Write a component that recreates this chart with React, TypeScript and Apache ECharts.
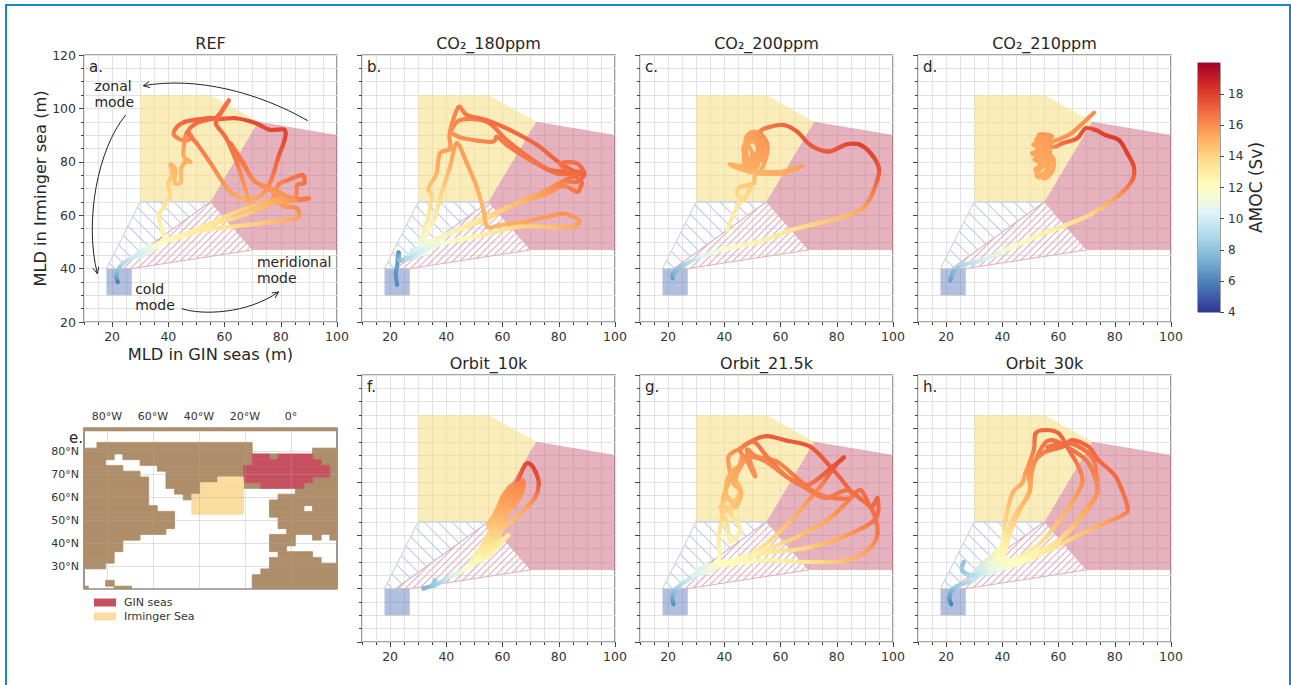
import React, { useEffect, useRef } from "react";
import * as echarts from "echarts";

// ---------- colour scale (AMOC, Sv) ----------
const amocMin = 4;
const amocMax = 20;
const cmapStops = ["#313695", "#4575b4", "#74add1", "#abd9e9", "#e0f3f8", "#ffffbf", "#fee090", "#fdae61", "#f46d43", "#d73027", "#a50026"];
const colorbarTicks = [4, 6, 8, 10, 12, 14, 16, 18];

// ---------- regime regions in (GIN MLD, Irminger MLD) ----------
const zonalRegion = [[30, 65], [30, 105], [55, 105], [72, 95], [55, 65]];
const meridionalRegion = [[72, 95], [100, 90], [100, 47], [70, 47], [55, 65]];
const coldRegion = [[18, 30], [27, 30], [27, 40], [18, 40]];
const zonalHatch = [[18, 40], [30, 65], [55, 65], [22, 40]];
const meridionalHatch = [[22, 40], [55, 65], [70, 47], [27, 40]];

// ---------- trajectories: [GIN MLD, Irminger MLD, AMOC] ----------
const refTrack = [
  [22, 35, 5.8], [21.5, 37, 7], [22, 39.5, 8], [24, 42, 9], [27, 44, 9.7], [31, 45.5, 10.5], [35, 47.5, 11.5], [33, 47, 11], [28, 44.5, 9.8], [32, 47.5, 10.8], [37, 49, 11.8], [30, 44.5, 10], [35, 48.5, 11.2], [38.3, 50.5, 12.3],
  [38, 54, 12.7], [36.5, 59.5, 13], [38.3, 63, 13.3], [40.6, 67, 13.8], [40, 72, 14.2], [41.5, 75, 14.6], [40.8, 79, 14.9], [42.5, 77, 14.9],
  [42.3, 72, 14.6], [44.5, 72.5, 14.7], [44.5, 77, 14.9], [46, 80, 15.2], [47.8, 80, 15.2], [45.5, 82, 15.2], [45.5, 86, 15.6], [46.6, 91, 16.2],
  [48.4, 89, 16.1], [45.5, 88, 15.9], [42, 90, 16.4], [43, 93, 16.7], [46, 95, 17], [50, 95.8, 17], [55, 96.5, 17], [58, 96, 17.2], [64, 96.3, 17.5],
  [71, 94.5, 17.8], [76, 92, 17.8], [81.3, 92, 17.9], [81.3, 88, 17.7], [79.2, 82, 17.2], [76.5, 73, 16.4], [73, 67.5, 15.6], [68, 66, 15.2], [63, 68, 15.4],
  [59.6, 72, 15.8], [55, 79.5, 16.2], [50, 87, 16.5], [47, 91, 16.6], [50, 94.5, 16.8], [55, 96, 17], [57.5, 97, 16.9], [61.5, 103, 16.7], [58, 97, 16.8],
  [57, 94, 16.9], [60.5, 89, 16.8], [64.4, 79.5, 16.4], [68, 68, 15.6], [69.7, 62.5, 15.2], [74, 63, 15.4], [77.5, 67, 15.8], [79.2, 71.5, 16.2],
  [82.2, 73, 16.5], [87.6, 75, 16.8], [88.4, 72, 16.7], [85.8, 71.3, 16.5], [85, 66.3, 16.1], [78.6, 68, 15.8], [80.4, 63.8, 15.7], [85.8, 62.5, 16],
  [86.5, 60, 15.8], [85.8, 59, 15.5], [81, 58, 15], [71.5, 56.8, 14.2], [62, 55.6, 13.6], [52.5, 54.4, 13], [42, 51, 12.4], [38.3, 50.5, 12.2],
  [47.8, 53.5, 12.9], [57.3, 57, 13.4], [66.8, 60, 14.2], [76, 64, 15], [81, 65, 15.6], [89.9, 66.3, 16.6], [84.6, 66.2, 16.2], [76.3, 70, 16],
  [70.3, 73, 16.2], [66.8, 79.4, 16.5], [62, 87, 16.7], [66, 80, 16.5], [71, 72.5, 16.1], [77, 69, 15.8], [85, 65.5, 15.8], [76.3, 65.5, 15.2],
  [64.4, 61.3, 14], [54.9, 56.9, 13.2], [45, 52.5, 12.6], [38, 50, 12.2],
];
const co2180Track = [
  [22.5, 34, 6.2], [22, 38, 6.5], [22.5, 41, 6.8], [23, 46, 6.5], [23.5, 43, 8], [27, 45, 9.8], [28, 47, 10], [33, 48, 11], [29, 44, 10], [36, 50, 11.8], [32, 45.5, 10.8], [33, 49.4, 11.5], [43.7, 54.4, 12.8], [55.6, 60, 14], [67.5, 65.6, 15.2],
  [77, 69.4, 15.9], [81.5, 72.5, 16.3], [86.5, 72.5, 16.7], [88.8, 75, 16.9], [86.5, 76.3, 17], [77, 76.9, 16.9], [69.9, 81.3, 16.8], [61.5, 88.1, 16.6], [54.4, 95, 16.6],
  [44.8, 95.6, 16.2], [41.3, 91, 15.9], [44.3, 100.4, 16.3], [47.3, 97.5, 16.6], [54.4, 95.6, 16.8], [62.7, 91.9, 16.9], [72.3, 86.3, 17], [80.6, 79.4, 17.1], [88.9, 75, 17],
  [86.5, 79.4, 16.8], [80.6, 79, 16.7], [87.7, 73, 16.8], [87.7, 70.6, 16.8], [86.5, 68.8, 16.6], [81.5, 71, 16.2], [75.8, 68, 15.7], [65.1, 64.4, 14.8], [53.2, 58.1, 13.6], [41.3, 53.1, 12.6], [31, 48, 11],
  [33.6, 59.4, 13.2], [34.8, 66.9, 14], [33.6, 70, 14.5], [36.5, 75.6, 15], [37.7, 83.1, 15.5], [41.3, 85, 15.6], [41.3, 90.6, 15.9], [46, 88.8, 16], [56.2, 87.5, 16.3],
  [58, 89.4, 16.4], [61.5, 86.3, 16.5], [69.9, 80.6, 16.6], [79.4, 75.6, 16.8], [86.5, 75.5, 16.9], [80, 72, 16.2], [72, 67.5, 15.4], [61, 62.5, 14.3], [50, 57.5, 13.2], [33, 50, 11.5],
  [36, 59.4, 13], [38.3, 68.1, 14], [41.3, 78.1, 15], [43.7, 86.9, 15.7], [47.3, 79.4, 15.5], [50.8, 70.6, 15.2], [53.2, 61.9, 14.9], [54.6, 55.6, 15], [59.2, 56.3, 15], [67.5, 57.5, 15.4],
  [75.8, 59.4, 15.7], [81.8, 60.6, 15.9], [87.1, 58.1, 15.7], [84.8, 55.6, 15.3], [77, 55.6, 14.6], [65.1, 55.6, 13.9], [55, 53, 13], [43, 50.5, 12], [33, 47.5, 10.5], [26, 43.5, 9],
];
const co2200Track = [
  [21.7, 36.3, 6.8], [21.7, 38, 7.3], [25.5, 41.3, 8.5], [31.4, 44.4, 10.3], [40.9, 47.5, 11.8], [54, 50.6, 12.7], [63.5, 54.4, 13.4], [77.8, 58.1, 14.4], [87.3, 61.3, 15.2],
  [91.5, 65.6, 16], [94.4, 73.1, 17], [95, 77.5, 17.4], [92.6, 82.5, 17.8], [88.5, 86.3, 18], [83.7, 86.6, 17.8], [80.2, 85, 17.5], [76.6, 83.8, 17.3], [70.6, 86.3, 17.4], [65.9, 91.3, 17.3],
  [61.1, 93.8, 17], [56.4, 93.1, 16.6], [52.8, 91.3, 16.3], [55.2, 86.9, 15.8], [54.6, 80.6, 15.5], [51.6, 75.6, 15.2], [48, 80, 15.3], [46.9, 85.6, 15.4], [50.4, 89.4, 15.6], [53, 86.5, 15.6], [52.3, 80, 15.4],
  [50.4, 76.9, 15.2], [47.8, 83, 15.3], [48.5, 87, 15.5], [52.5, 88, 15.7], [53.8, 82, 15.5], [51.8, 79.6, 15.3], [49, 76, 15.2], [47, 80, 15.3], [48, 86, 15.5], [51, 90, 15.7], [54, 88, 15.7], [53, 83, 15.5], [49, 80, 15.3], [47.5, 84, 15.4], [49.5, 88, 15.5], [52, 85, 15.5], [50, 79, 15.3], [48, 77.5, 15.2], [50, 83, 15.4], [47.5, 88, 15.4], [49.5, 91, 15.6], [53, 90, 15.8], [51.5, 83, 15.5],
  [47, 78.5, 15.2], [42, 79, 15.2], [47, 76.9, 15.1], [52.8, 75.6, 15.1],
  [60, 75.6, 15.3], [67.7, 78.4, 15.6], [60, 76.2, 15.2], [51.5, 76, 15], [50.4, 71.9, 14.6], [45.7, 70.6, 14.2], [44.5, 68.1, 13.9], [47, 66.3, 13.8], [49.5, 71, 14.2], [47.5, 66.5, 13.8], [44.5, 63.1, 13.2], [41, 54.4, 12.8],
];
const co2210Track = [
  [21.5, 35.6, 6.8], [22.7, 38.8, 7.6], [25.7, 41.3, 8.8], [32.8, 43.1, 10], [43.5, 48.1, 11.8], [53, 52.5, 12.6], [62.5, 56.3, 13.2], [72, 60.6, 14], [81.5, 67.5, 15.8], [86.2, 73.1, 16.9], [86.8, 78.1, 17.6],
  [84.5, 83.1, 18], [81.5, 88.1, 18.1], [76.7, 90, 18], [73.2, 91.9, 17.8], [69.6, 92.5, 17.6], [66.6, 88.8, 17.3], [61.3, 86.9, 16.8], [57.7, 85.6, 16], [53, 90, 15.9], [57.7, 89.5, 15.7], [53, 87, 15.6], [51.2, 86.3, 15.5],
  [56, 84, 15.5], [50.6, 83.1, 15.4], [57.7, 80.6, 15.4], [53, 78, 15.3], [51.8, 76.9, 15.3], [54.8, 73.8, 15.2], [57.7, 76.3, 15.3], [58.2, 81, 15.4], [55.2, 83, 15.4], [52.2, 75.5, 15.2], [53.9, 74.5, 15.2], [56.2, 79.5, 15.3],
  [52.5, 89, 15.5], [57, 87, 15.6], [52, 84, 15.5], [56, 82, 15.4], [51.5, 81, 15.4], [55, 79, 15.3], [52.5, 77, 15.3], [55, 75, 15.2], [57, 78, 15.3], [53.5, 80, 15.4], [57, 84, 15.5], [53.5, 85.5, 15.5], [56.5, 88.5, 15.7], [52, 88, 15.5], [54.5, 83, 15.4], [53.5, 77.5, 15.3], [56, 81, 15.4],
  [55, 86, 15.6], [60.6, 88.6, 15.8], [65, 91, 15.9], [72.6, 98.4, 16],
];
const orbit10Track = [
  [31.8, 40, 7.5], [35.4, 41.3, 8], [36, 43.1, 8.3], [35.4, 41, 8.2], [41.3, 44.4, 10], [47.3, 47.5, 11.7], [50.8, 50.6, 12.2], [56.8, 54.4, 12.8], [62.1, 60, 13.2], [57, 56, 12.9], [51, 52, 12.4], [56.8, 59, 13.5],
  [55.8, 63.5, 14.3], [59.4, 72.4, 15.2], [65.1, 79.4, 15.8], [67.5, 80, 16.2], [66.3, 74.4, 15.8], [61.5, 68.1, 15], [56.8, 58.1, 13.8], [53, 52, 12.8], [58, 63, 14.2], [58.5, 70.5, 15], [62.7, 76, 15.6], [66.3, 78.5, 16],
  [65, 72.5, 15.6], [60.3, 66.5, 14.8], [55.5, 57.5, 13.6], [59, 60, 14], [61.5, 69.5, 15.1], [62.7, 75, 15.6], [60, 72, 15.4], [57, 62, 14.2], [61.5, 63.8, 14.4], [68.7, 70.6, 15.5], [71.7, 74.4, 16.3], [72.9, 79.4, 17.4],
  [71.7, 83.8, 17.8], [69.9, 86.6, 17.9], [68, 86.3, 17.7], [65.1, 80, 16.9], [61, 74.4, 16], [58, 67.5, 15.2],
  [55, 60, 14], [52, 55, 13.2], [49, 50, 12.4], [53, 51, 12.5], [57, 57, 13.4], [54.5, 58, 13.6], [57, 65, 14.6], [60, 72, 15.5], [63, 77, 16], [66, 79.5, 16.3], [64, 74, 15.8], [60, 67, 15], [56, 60, 14], [59, 63.5, 14.3], [61, 71, 15.4], [64, 76, 15.9], [66.5, 76.5, 16], [62.5, 72, 15.6], [59, 64, 14.6], [56.5, 61, 14], [55, 64, 14.6], [58, 69, 15.2], [60, 74.5, 15.6], [63.5, 78.5, 16], [61, 68, 15.2], [58, 60, 14], [53, 54, 13], [56, 53, 12.9], [51, 50, 12.3],
];
const orbit215Track = [
  [21.9, 34.1, 6.3], [21.6, 37.5, 7.4], [24.3, 41.3, 9], [29, 44.4, 10.2], [36.2, 48.1, 11.6], [29, 45, 10.2], [36, 47, 11.4], [30, 47, 10.3], [40, 50, 12.2], [34, 46, 10.8], [38, 50.6, 12.2], [38, 58.1, 13], [39.1, 66.9, 13.9], [39.7, 74.4, 14.8], [42, 81.9, 15.4], [41.5, 89.4, 15.8],
  [45.7, 92.5, 16.2], [50.4, 95.6, 16.8], [55.2, 97.1, 17.2], [62.3, 95.4, 17.3], [70.6, 93.1, 17.4], [77.8, 85.6, 17.3], [83.7, 78.1, 17], [85.5, 74.4, 16.8], [80.2, 73.8, 16.6], [73, 75.6, 16.6], [65.9, 81.3, 16.5], [58.8, 87.5, 16.3],
  [51.6, 89.4, 16.2], [48, 91.9, 16.1], [51, 82.1, 15.9], [48, 88, 16], [45.7, 92, 16.2], [50.4, 95, 16.7], [55.2, 89.4, 16.5], [62.3, 81.9, 16.5], [69.5, 78.8, 16.6], [77.8, 85, 17.4], [82.5, 89.1, 17.8], [79, 85.5, 17.4],
  [75, 79.4, 16.4], [65.9, 68.1, 15.2], [56.4, 58.1, 13.8], [45.7, 50.6, 12.6], [40, 49.5, 12], [54, 54.4, 13], [65.9, 59.4, 14.4], [77, 66, 15.5], [83.7, 72.5, 16.3], [88.5, 76.9, 16.8], [92.1, 70.6, 16.9], [94.5, 73.8, 17], [93.3, 65.6, 16.7],
  [80.2, 58.5, 15.3], [68.2, 55, 14], [54, 53.1, 12.9], [38, 49, 12], [54, 50.6, 12.6], [68.2, 50, 13.3], [82.5, 50.4, 14.6], [90.9, 54.4, 15.6], [94.5, 60.6, 16.5], [92.6, 69.5, 16.8], [88.5, 73.5, 16.9], [83.7, 76.9, 16.8], [76, 74, 16.4],
  [70, 77, 16.5], [62, 82, 16.4], [54, 88, 16.2], [47, 89.5, 16], [45.7, 86.9, 15.6], [43.3, 81.9, 15.2], [45.7, 76.9, 14.9], [42.1, 69.4, 14.2], [38.5, 70.6, 14.1], [43.5, 70.6, 14.5], [40.6, 75.6, 14.8], [41.5, 81.9, 15.1], [45.1, 85.6, 15.5], [43.9, 80, 15],
  [45.7, 76.5, 14.7], [42.1, 69.4, 14], [43.9, 65.6, 13.4], [45.7, 61.9, 13], [42.1, 57.5, 12.8], [41, 64, 13.6], [39, 70, 14.2], [41.5, 74, 14.6], [44, 70.5, 14.6], [46, 76, 15], [43, 80, 15.2], [45.5, 85, 15.5], [48, 90, 16],
];
const orbit30Track = [
  [21.8, 34.1, 5.9], [21.2, 36.9, 6.8], [23.3, 40.6, 8.2], [29.2, 43.1, 9.3], [35.2, 47.5, 10.8], [30, 44, 9.6], [36, 50, 11], [33, 46, 10.2], [40, 53, 12], [37, 47.5, 11.2], [42, 51, 12.2], [34, 48, 10.6], [39, 55, 12.4], [30, 46, 9.8], [38.7, 51.9, 12], [41.1, 65.6, 14], [43.5, 75.6, 15], [47, 79.4, 15.3], [48.2, 83.1, 15.6], [51.2, 91.9, 16.4], [51.8, 98.1, 16.9], [55.4, 99.4, 17],
  [60.1, 98.1, 17], [63.7, 91.9, 16.8], [67.1, 85.6, 16.5], [68.4, 79.4, 16], [63.7, 70.6, 15.2], [57.7, 61.9, 14.2], [51.8, 55.6, 13.2], [42, 50, 12.2], [40, 55, 12.6],
  [43.5, 65.6, 14], [49.4, 75.6, 15.3], [50.6, 84.4, 15.9], [54.2, 93.1, 16.5], [57.7, 95.6, 16.8], [64.8, 91.9, 16.7], [70.7, 86.9, 16.5], [73.9, 76.9, 16], [70.4, 70.6, 15.4], [63.7, 61.9, 14.3], [55, 54, 13], [41, 48.5, 11.8], [41.5, 56, 12.7],
  [45.5, 68, 14.4], [49.8, 76.5, 15.3], [49.5, 84, 15.8], [54.2, 90.6, 16.4], [61.3, 93.1, 16.8], [64.8, 95.6, 17], [70.7, 93.1, 17], [74.2, 88.1, 16.9], [80.3, 81.9, 16.9], [84.5, 70.6, 16.6], [82.7, 67.5, 16.1], [72, 62.5, 14.9],
  [58.9, 55.6, 13.4], [45.9, 49.4, 12], [35, 46, 10.5], [29.2, 45, 9.2], [25.7, 46.9, 8.4], [26.3, 50, 8], [25.7, 46.9, 8.2], [29.2, 45, 9], [36, 47, 10.8], [46, 50.5, 12], [60, 58, 13.6], [67.2, 65.6, 14.9], [73.2, 74.4, 15.8], [73.6, 81.9, 16.2], [71.8, 89.4, 16.6], [64, 94.5, 16.8], [56, 93, 16.7],
];

// ---------- panel e: model land mask as [row, firstColumn, lastColumn] ----------
const landRuns = [
  [0, 0, 29], [3, 2, 19], [4, 0, 19], [4, 27, 29], [5, 0, 3], [5, 5, 19], [5, 22, 22], [5, 27, 29], [6, 0, 2], [6, 7, 19], [6, 28, 29],
  [7, 0, 4], [7, 9, 18], [7, 29, 29], [8, 0, 6], [8, 10, 18], [8, 29, 29], [9, 0, 7], [9, 10, 15], [9, 27, 29], [10, 0, 7], [10, 10, 13], [10, 19, 20], [10, 26, 29],
  [11, 0, 7], [11, 11, 13], [11, 25, 29], [12, 0, 7], [12, 12, 12], [12, 23, 29], [13, 0, 7], [13, 22, 29], [14, 0, 8], [14, 22, 25], [14, 27, 29],
  [15, 0, 10], [15, 22, 29], [16, 0, 10], [16, 23, 29], [17, 0, 10], [17, 23, 29], [18, 0, 9], [18, 24, 29], [19, 0, 6], [19, 22, 24], [19, 27, 27], [19, 29, 29],
  [20, 0, 4], [20, 22, 24], [21, 0, 4], [21, 22, 23], [22, 0, 3], [22, 23, 26], [23, 0, 3], [23, 22, 27], [24, 0, 2], [24, 22, 29], [25, 21, 29], [26, 20, 29],
  [27, 3, 3], [27, 20, 29], [28, 0, 0], [28, 4, 5], [28, 20, 29],
];
const ginRuns = [[5, 20, 21], [5, 23, 26], [6, 20, 27], [7, 19, 28], [8, 19, 28], [9, 19, 26], [10, 21, 25]];
const irmingerRuns = [[9, 16, 18], [10, 14, 18], [11, 14, 18], [12, 13, 18], [13, 13, 18], [14, 13, 18], [14.5, 13, 18]];
const mapLonTicks = [-80, -60, -40, -20, 0];
const mapLatTicks = [30, 40, 50, 60, 70, 80];

// ---------- tick labels ----------
const xMajor = [20, 40, 60, 80, 100];
const yMajor = [20, 40, 60, 80, 100, 120];

const panels = [
  { title: "REF", letter: "a.", left: 84, top: 55, track: refTrack },
  { title: "CO₂_180ppm", letter: "b.", left: 362, top: 55, track: co2180Track },
  { title: "CO₂_200ppm", letter: "c.", left: 640, top: 55, track: co2200Track },
  { title: "CO₂_210ppm", letter: "d.", left: 918, top: 55, track: co2210Track },
  { title: "Orbit_10k", letter: "f.", left: 362, top: 375, track: orbit10Track },
  { title: "Orbit_21.5k", letter: "g.", left: 640, top: 375, track: orbit215Track },
  { title: "Orbit_30k", letter: "h.", left: 918, top: 375, track: orbit30Track },
];
const panelW = 253;
const panelH = 267;
const ink = "#262626";
const tickInk = "#444";

function hex(c: string) {
  return [parseInt(c.slice(1, 3), 16), parseInt(c.slice(3, 5), 16), parseInt(c.slice(5, 7), 16)];
}
function amocColor(v: number) {
  const t = Math.max(0, Math.min(0.9999, (v - amocMin) / (amocMax - amocMin))) * (cmapStops.length - 1);
  const i = Math.floor(t);
  const f = t - i;
  const a = hex(cmapStops[i]);
  const b = hex(cmapStops[i + 1]);
  return `rgb(${a.map((x, k) => Math.round(x + (b[k] - x) * f)).join(",")})`;
}

function trackSeries(track: number[][], i: number) {
  return {
    type: "custom",
    xAxisIndex: i * 2,
    yAxisIndex: i * 2,
    z: 5,
    silent: true,
    clip: true,
    data: track,
    encode: { x: 0, y: 1 },
    renderItem: (p: any, api: any) => {
      const k = p.dataIndex;
      if (k >= track.length - 1) return null;
      const at = (n: number) => api.coord(track[Math.max(0, Math.min(track.length - 1, n))]);
      const p0 = at(k - 1), p1 = at(k), p2 = at(k + 1), p3 = at(k + 2);
      return {
        type: "bezierCurve",
        shape: {
          x1: p1[0], y1: p1[1], x2: p2[0], y2: p2[1],
          cpx1: p1[0] + (p2[0] - p0[0]) / 6, cpy1: p1[1] + (p2[1] - p0[1]) / 6,
          cpx2: p2[0] - (p3[0] - p1[0]) / 6, cpy2: p2[1] - (p3[1] - p1[1]) / 6,
        },
        style: {
          fill: "none",
          lineWidth: 4.2,
          lineCap: "round",
          stroke: new echarts.graphic.LinearGradient(p1[0], p1[1], p2[0], p2[1], [
            { offset: 0, color: amocColor(track[k][2]) },
            { offset: 1, color: amocColor(track[k + 1][2]) },
          ], true),
        },
      };
    },
  };
}

function polygonSeries(poly: number[][], i: number, fill: string, z = 2) {
  return {
    type: "custom",
    xAxisIndex: i * 2,
    yAxisIndex: i * 2,
    z,
    silent: true,
    data: poly,
    encode: { x: 0, y: 1 },
    renderItem: (p: any, api: any) => {
      if (p.dataIndex !== 0) return null;
      return { type: "polygon", shape: { points: poly.map((c) => api.coord(c)) }, style: { fill } };
    },
  };
}

function hatchSeries(poly: number[][], i: number, stroke: string, dir: number[], spacing: number) {
  return {
    type: "custom",
    xAxisIndex: i * 2,
    yAxisIndex: i * 2,
    z: 3,
    silent: true,
    data: poly,
    encode: { x: 0, y: 1 },
    renderItem: (p: any, api: any) => {
      if (p.dataIndex !== 0) return null;
      const pts: number[][] = poly.map((c) => api.coord(c));
      const n = [-dir[1], dir[0]];
      const offs = pts.map((q) => q[0] * n[0] + q[1] * n[1]);
      const children: any[] = [{ type: "polygon", shape: { points: pts }, style: { fill: "none", stroke, lineWidth: 1 } }];
      const lo = Math.ceil(Math.min(...offs) / spacing) * spacing;
      for (let o = lo; o < Math.max(...offs); o += spacing) {
        const hits: number[][] = [];
        pts.forEach((a, j) => {
          const b = pts[(j + 1) % pts.length];
          const da = offs[j] - o;
          const db = offs[(j + 1) % pts.length] - o;
          if (da * db < 0) {
            const t = da / (da - db);
            hits.push([a[0] + (b[0] - a[0]) * t, a[1] + (b[1] - a[1]) * t]);
          }
        });
        if (hits.length === 2) {
          children.push({
            type: "line",
            shape: { x1: hits[0][0], y1: hits[0][1], x2: hits[1][0], y2: hits[1][1] },
            style: { stroke, lineWidth: 1.1, fill: "none" },
          });
        }
      }
      return { type: "group", children };
    },
  };
}

function arrowSeries(ctrl: number[][]) {
  return {
    type: "custom",
    xAxisIndex: 0,
    yAxisIndex: 0,
    z: 6,
    silent: true,
    data: ctrl,
    encode: { x: 0, y: 1 },
    renderItem: (p: any, api: any) => {
      if (p.dataIndex !== 0) return null;
      const [a, c1, c2, b] = ctrl.map((c) => api.coord(c));
      const ang = Math.atan2(b[1] - c2[1], b[0] - c2[0]);
      const len = 7;
      const wing = (d: number) => [b[0] - len * Math.cos(ang + d), b[1] - len * Math.sin(ang + d)];
      return {
        type: "group",
        children: [
          {
            type: "bezierCurve",
            shape: { x1: a[0], y1: a[1], cpx1: c1[0], cpy1: c1[1], cpx2: c2[0], cpy2: c2[1], x2: b[0], y2: b[1] },
            style: { fill: "none", stroke: "#222", lineWidth: 1 },
          },
          { type: "polyline", shape: { points: [wing(0.45), b, wing(-0.45)] }, style: { fill: "none", stroke: "#222", lineWidth: 1 } },
        ],
      };
    },
  };
}

function noteSeries(text: string, at: number[]) {
  return {
    type: "custom",
    xAxisIndex: 0,
    yAxisIndex: 0,
    z: 6,
    silent: true,
    data: [at],
    encode: { x: 0, y: 1 },
    renderItem: (_p: any, api: any) => {
      const c = api.coord(at);
      return {
        type: "text",
        x: c[0],
        y: c[1],
        style: { text, fill: ink, font: "14px 'DejaVu Sans'", textAlign: "left", textVerticalAlign: "top", lineHeight: 16 },
      };
    },
  };
}

function runSeries(name: string, runs: number[][], color: string, idx: number, z: number) {
  return {
    name,
    type: "custom",
    xAxisIndex: idx,
    yAxisIndex: idx,
    z,
    silent: true,
    clip: true,
    itemStyle: { color },
    data: runs,
    renderItem: (p: any, api: any) => {
      const [r, c0, c1] = runs[p.dataIndex];
      const a = api.coord([-90 + (c0 - 0.5) * 3.75, 90 - (r - 0.5) * 2.5]);
      const b = api.coord([-90 + (c1 + 0.5) * 3.75, 90 - (r + 0.5) * 2.5]);
      return {
        type: "rect",
        shape: { x: a[0], y: a[1], width: b[0] - a[0], height: b[1] - a[1] },
        style: { fill: color, stroke: color, lineWidth: 0.8 },
      };
    },
  };
}

function buildOption() {
  const grids: any[] = [];
  const xAxes: any[] = [];
  const yAxes: any[] = [];
  const series: any[] = [];
  const titles: any[] = [];
  const graphics: any[] = [];

  panels.forEach((pn, i) => {
    grids.push({ left: pn.left, top: pn.top, width: panelW, height: panelH, show: true, borderColor: "#555", borderWidth: 1.2, backgroundColor: "#fff" });
    const isRef = i === 0;
    const minorLine = { lineStyle: { color: "#e2e2e2", width: 1 } };
    xAxes.push({
      gridIndex: i, type: "value", min: 10, max: 100, interval: 5, position: "bottom",
      axisLine: { show: false }, axisLabel: { show: false },
      axisTick: { length: 3, lineStyle: { color: tickInk, width: 1 } },
      splitLine: { show: true, ...minorLine },
    });
    xAxes.push({
      gridIndex: i, type: "value", min: 10, max: 100, position: "bottom",
      axisLine: { show: false, onZero: false },
      axisTick: { length: 5, customValues: xMajor, lineStyle: { color: tickInk, width: 1 } },
      axisLabel: { customValues: xMajor, fontFamily: "DejaVu Sans", fontSize: 12.5, color: "#333", margin: 8 },
      splitLine: { show: false },
      ...(isRef ? { name: "MLD in GIN seas (m)", nameLocation: "middle", nameGap: 24, nameTextStyle: { fontFamily: "DejaVu Sans", fontSize: 16.2, color: ink } } : {}),
    });
    yAxes.push({
      gridIndex: i, type: "value", min: 20, max: 120, interval: 5, position: "left",
      axisLine: { show: false }, axisLabel: { show: false },
      axisTick: { length: 3, lineStyle: { color: tickInk, width: 1 } },
      splitLine: { show: true, ...minorLine },
    });
    yAxes.push({
      gridIndex: i, type: "value", min: 20, max: 120, position: "left",
      axisLine: { show: false, onZero: false },
      axisTick: { length: 5, customValues: yMajor, lineStyle: { color: tickInk, width: 1 } },
      axisLabel: isRef
        ? { customValues: yMajor, fontFamily: "DejaVu Sans", fontSize: 12.5, color: "#333", margin: 8 }
        : { show: false },
      splitLine: { show: false },
      ...(isRef ? { name: "MLD in Irminger sea (m)", nameLocation: "middle", nameGap: 34, nameTextStyle: { fontFamily: "DejaVu Sans", fontSize: 16.2, color: ink } } : {}),
    });

    series.push(polygonSeries(zonalRegion, i, "rgba(245,222,130,0.55)"));
    series.push(polygonSeries(meridionalRegion, i, "rgba(200,95,120,0.48)"));
    series.push(polygonSeries(coldRegion, i, "rgba(85,115,185,0.45)"));
    series.push(hatchSeries(zonalHatch, i, "#c3cde4", [1, 1], 14));
    series.push(hatchSeries(meridionalHatch, i, "#e2aebb", [1, -1], 7));
    series.push(trackSeries(pn.track, i));

    titles.push({
      text: pn.title,
      left: pn.left + panelW / 2,
      top: pn.top - 20,
      textAlign: "center",
      padding: 0,
      textStyle: { fontFamily: "DejaVu Sans", fontSize: 16, fontWeight: "normal", color: ink },
    });
    graphics.push({
      type: "text", x: pn.left + 5, y: pn.top + 12, z: 10,
      style: { text: pn.letter, fill: ink, font: "15px 'DejaVu Sans'", textVerticalAlign: "middle" },
    });
  });

  // annotations of panel a
  series.push(arrowSeries([[89.6, 95.4], [72, 106], [50, 112], [31.1, 108.5]]));
  series.push(arrowSeries([[24.8, 97.5], [15, 85], [10, 58], [14.75, 38.1]]));
  series.push(arrowSeries([[44.8, 25], [52, 22.5], [68, 23], [79.2, 31.25]]));
  series.push(noteSeries("zonal\nmode", [13.7, 111.5]));
  series.push(noteSeries("meridional\nmode", [71.5, 45.5]));
  series.push(noteSeries("cold\nmode", [28.2, 35.2]));

  // panel e: the map
  const mapIdx = panels.length * 2;
  grids.push({ left: 84, top: 428, width: 253, height: 161, show: true, borderColor: "#555", borderWidth: 1.2, backgroundColor: "#fff" });
  xAxes.push({
    gridIndex: panels.length, type: "value", min: -90, max: 20, position: "top", z: 6,
    axisLine: { show: false },
    axisTick: { show: false, customValues: mapLonTicks },
    axisLabel: { customValues: mapLonTicks, margin: 6, fontFamily: "DejaVu Sans", fontSize: 11, color: "#333", formatter: (v: number) => (v < 0 ? `${-v}°W` : `${v}°`) },
    splitLine: { show: true, lineStyle: { color: "rgba(170,170,170,0.35)", width: 1 } },
  });
  yAxes.push({
    gridIndex: panels.length, type: "value", min: 20, max: 90, position: "left", z: 6,
    axisLine: { show: false },
    axisTick: { show: false, customValues: mapLatTicks },
    axisLabel: { customValues: mapLatTicks, margin: 5, fontFamily: "DejaVu Sans", fontSize: 11, color: "#333", formatter: (v: number) => `${v}°N` },
    splitLine: { show: true, lineStyle: { color: "rgba(170,170,170,0.35)", width: 1 } },
  });
  series.push(runSeries("Land", landRuns, "#ae8e6a", mapIdx, 2));
  series.push(runSeries("GIN seas", ginRuns, "#c6505f", mapIdx, 3));
  series.push(runSeries("Irminger Sea", irmingerRuns, "#fadc9f", mapIdx, 3));
  graphics.push({
    type: "text", x: 69, y: 438, z: 10,
    style: { text: "e.", fill: ink, font: "15px 'DejaVu Sans'", textVerticalAlign: "middle" },
  });

  // colour bar
  const barIdx = mapIdx + 1;
  grids.push({ left: 1198, top: 63, width: 22, height: 249, show: true, borderColor: "#444", borderWidth: 1 });
  xAxes.push({ gridIndex: panels.length + 1, type: "value", min: 0, max: 1, show: false });
  yAxes.push({
    gridIndex: panels.length + 1, type: "value", min: amocMin, max: amocMax, position: "right",
    axisLine: { show: false, onZero: false },
    axisTick: { customValues: colorbarTicks, length: 4, lineStyle: { color: tickInk } },
    axisLabel: { customValues: colorbarTicks, margin: 8, fontFamily: "DejaVu Sans", fontSize: 12, color: "#333" },
    splitLine: { show: false },
    name: "AMOC (Sv)", nameLocation: "middle", nameRotate: 90, nameGap: 25,
    nameTextStyle: { fontFamily: "DejaVu Sans", fontSize: 17, color: ink },
  });
  series.push({
    type: "custom", xAxisIndex: barIdx, yAxisIndex: barIdx, silent: true, z: 2,
    data: [[0, amocMin], [1, amocMax]],
    encode: { x: 0, y: 1 },
    renderItem: (p: any, api: any) => {
      if (p.dataIndex !== 0) return null;
      const a = api.coord([0, amocMax]);
      const b = api.coord([1, amocMin]);
      return {
        type: "rect",
        shape: { x: a[0], y: a[1], width: b[0] - a[0], height: b[1] - a[1] },
        style: {
          fill: new echarts.graphic.LinearGradient(0, 1, 0, 0, cmapStops.map((color, k) => ({ offset: k / (cmapStops.length - 1), color }))),
        },
      };
    },
  });

  // page frame
  graphics.push({
    type: "polyline", z: 20, silent: true,
    shape: { points: [[6, 685], [6, 5], [1290, 5], [1290, 685]] },
    style: { fill: "none", stroke: "#1688c8", lineWidth: 2 },
  });

  return {
    animation: false,
    backgroundColor: "#fff",
    title: titles,
    grid: grids,
    xAxis: xAxes,
    yAxis: yAxes,
    series,
    graphic: graphics,
    legend: {
      show: true,
      data: ["GIN seas", "Irminger Sea"],
      orient: "vertical",
      left: 94,
      top: 597,
      itemWidth: 22,
      itemHeight: 8,
      itemGap: 3,
      icon: "rect",
      selectedMode: false,
      padding: 0,
      textStyle: { fontFamily: "DejaVu Sans", fontSize: 11, color: "#333", padding: [0, 0, 0, 3] },
    },
  };
}

export default function App() {
  const ref = useRef<HTMLDivElement | null>(null);
  useEffect(() => {
    const chart = echarts.init(ref.current!, undefined, { renderer: "svg" });
    chart.setOption(buildOption() as any);
    return () => chart.dispose();
  }, []);
  return <div ref={ref} style={{ position: "fixed", left: 0, top: 0, width: 1291, height: 685, background: "#fff" }} />;
}
